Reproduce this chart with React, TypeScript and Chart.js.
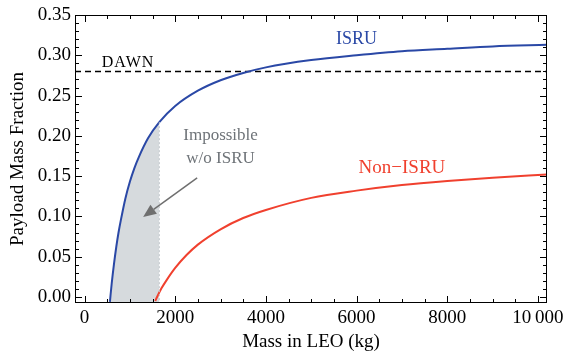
import React, { useEffect, useRef } from 'react';
import { Chart, registerables } from 'chart.js';
Chart.register(...registerables);

// Data
const isruMass = [560, 600, 650, 700, 750, 800, 900, 1000, 1100, 1200, 1400, 1650, 2000, 2500, 3000, 3500, 4000, 5000, 6000, 7000, 8000, 9000, 10200];
const isruFraction = [-0.006, 0.017, 0.041, 0.062, 0.080, 0.095, 0.122, 0.143, 0.160, 0.174, 0.197, 0.217, 0.237, 0.256, 0.269, 0.278, 0.285, 0.294, 0.300, 0.305, 0.308, 0.311, 0.313];
const nonIsruMass = [1560, 1600, 1700, 1800, 2000, 2250, 2500, 3000, 3500, 4000, 5000, 6000, 7000, 8000, 9000, 10200];
const nonIsruFraction = [-0.005, 0.0, 0.011, 0.020, 0.036, 0.052, 0.065, 0.084, 0.098, 0.108, 0.123, 0.132, 0.139, 0.144, 0.148, 0.152];
const shadeMass = [560, 600, 650, 700, 750, 800, 900, 1000, 1100, 1200, 1400, 1650];
const shadeFraction = [-0.006, 0.017, 0.041, 0.062, 0.080, 0.095, 0.122, 0.143, 0.160, 0.174, 0.197, 0.217];
const dawnMass = [-210, 10200];
const dawnFraction = [0.28, 0.28];
const xTickValues = [0, 2000, 4000, 6000, 8000, 10000];
const yTickValues = [0.0, 0.05, 0.1, 0.15, 0.2, 0.25, 0.3, 0.35];

const SERIF = '"Liberation Serif", "DejaVu Serif", serif';
const BLUE = '#2a48a6';
const RED = '#f0402e';
const GRAY_TEXT = '#6e7378';

const pts = (xs: number[], ys: number[]) => xs.map((x, i) => ({ x, y: ys[i] }));

const framePlugin = {
  id: 'frame',
  afterDatasetsDraw(chart: any) {
    const { ctx, chartArea: a, scales } = chart;
    const xs = scales.x;
    const ys = scales.y;
    ctx.save();
    // faint dashed edge of the shaded region
    const ex = xs.getPixelForValue(shadeMass[shadeMass.length - 1]);
    ctx.strokeStyle = '#c4c9cd';
    ctx.lineWidth = 1;
    ctx.setLineDash([2, 2]);
    ctx.beginPath();
    ctx.moveTo(ex, ys.getPixelForValue(shadeFraction[shadeFraction.length - 1]));
    ctx.lineTo(ex, a.bottom);
    ctx.stroke();
    ctx.setLineDash([]);
    // frame
    ctx.strokeStyle = '#000';
    ctx.lineWidth = 1;
    ctx.strokeRect(a.left + 0.5, a.top + 0.5, a.right - a.left - 1, a.bottom - a.top - 1);
    // x ticks (inward, bottom & top)
    ctx.beginPath();
    for (let m = 0; m <= 10000; m += 500) {
      const px = Math.round(xs.getPixelForValue(m)) + 0.5;
      const len = m % 2000 === 0 ? 7 : 4;
      ctx.moveTo(px, a.bottom);
      ctx.lineTo(px, a.bottom - len);
      ctx.moveTo(px, a.top);
      ctx.lineTo(px, a.top + len);
    }
    // y ticks (inward, left & right)
    for (let k = 0; k <= 35; k++) {
      const v = k / 100;
      const py = Math.round(ys.getPixelForValue(v)) + 0.5;
      const len = k % 5 === 0 ? 7 : 4;
      ctx.moveTo(a.left, py);
      ctx.lineTo(a.left + len, py);
      ctx.moveTo(a.right, py);
      ctx.lineTo(a.right - len, py);
    }
    ctx.stroke();

    const P = (m: number, v: number) => [xs.getPixelForValue(m), ys.getPixelForValue(v)];
    ctx.textAlign = 'center';
    ctx.textBaseline = 'middle';

    // series labels
    ctx.fillStyle = BLUE;
    ctx.font = `18px ${SERIF}`;
    let [lx, ly] = P(6000, 0.32);
    ctx.fillText('ISRU', lx, ly);

    ctx.fillStyle = RED;
    ctx.font = `19px ${SERIF}`;
    [lx, ly] = P(7000, 0.16);
    ctx.fillText('Non\u2212ISRU', lx, ly);

    ctx.fillStyle = '#000';
    ctx.font = `16px ${SERIF}`;
    (ctx as any).letterSpacing = '1px';
    [lx, ly] = P(960, 0.291);
    ctx.fillText('DAWN', lx, ly);
    (ctx as any).letterSpacing = '0px';

    ctx.fillStyle = GRAY_TEXT;
    ctx.font = `17px ${SERIF}`;
    [lx, ly] = P(3000, 0.201);
    ctx.fillText('Impossible', lx, ly);
    [lx, ly] = P(3000, 0.1714);
    ctx.fillText('w/o ISRU', lx, ly);

    // arrow
    const [x1, y1] = P(2484, 0.1478);
    const [x2, y2] = P(1293, 0.0994);
    const ang = Math.atan2(y2 - y1, x2 - x1);
    const hl = 13, hw = 5.5;
    const bx = x2 - hl * Math.cos(ang);
    const by = y2 - hl * Math.sin(ang);
    ctx.strokeStyle = '#6f6f6f';
    ctx.fillStyle = '#6f6f6f';
    ctx.lineWidth = 1.5;
    ctx.beginPath();
    ctx.moveTo(x1, y1);
    ctx.lineTo(bx, by);
    ctx.stroke();
    ctx.beginPath();
    ctx.moveTo(x2, y2);
    ctx.lineTo(bx + hw * Math.sin(ang), by - hw * Math.cos(ang));
    ctx.lineTo(bx - hw * Math.sin(ang), by + hw * Math.cos(ang));
    ctx.closePath();
    ctx.fill();
    ctx.restore();
  },
};

export default function App() {
  const ref = useRef<HTMLCanvasElement | null>(null);
  useEffect(() => {
    document.body.style.margin = '0';
    if (!ref.current) return;
    const chart = new Chart(ref.current, {
      type: 'line',
      data: {
        datasets: [
          {
            data: pts(shadeMass, shadeFraction),
            borderWidth: 0,
            borderColor: 'rgba(0,0,0,0)',
            backgroundColor: '#d6dadd',
            fill: 'start',
            pointRadius: 0,
            cubicInterpolationMode: 'monotone',
            order: 10,
          },
          {
            data: pts(dawnMass, dawnFraction),
            borderColor: '#000',
            borderWidth: 1.5,
            borderDash: [6, 4],
            pointRadius: 0,
            fill: false,
            order: 3,
          },
          {
            data: pts(isruMass, isruFraction),
            borderColor: BLUE,
            borderWidth: 2,
            pointRadius: 0,
            fill: false,
            cubicInterpolationMode: 'monotone',
            order: 1,
          },
          {
            data: pts(nonIsruMass, nonIsruFraction),
            borderColor: RED,
            borderWidth: 2,
            pointRadius: 0,
            fill: false,
            cubicInterpolationMode: 'monotone',
            order: 2,
          },
        ],
      },
      options: {
        animation: false,
        responsive: false,
        devicePixelRatio: 1,
        layout: { padding: { top: 15, right: 17, left: 0, bottom: 0 } },
        plugins: { legend: { display: false }, tooltip: { enabled: false } },
        scales: {
          x: {
            type: 'linear',
            min: -210,
            max: 10200,
            grid: { display: false, drawTicks: false },
            border: { display: false },
            afterBuildTicks: (s: any) => { s.ticks = xTickValues.map((value) => ({ value })); },
            afterFit: (s: any) => { s.height = 53; s.paddingLeft = 0; s.paddingRight = 0; },
            ticks: {
              includeBounds: false,
              padding: 4,
              color: '#000',
              font: { family: SERIF, size: 19 },
              maxRotation: 0,
              autoSkip: false,
              callback: (v: any) => (v === 10000 ? '10\u2009000' : String(v)),
            },
            title: {
              display: true,
              text: 'Mass in LEO (kg)',
              color: '#000',
              font: { family: SERIF, size: 19 },
              padding: { top: 0, bottom: 3 },
            },
          },
          y: {
            type: 'linear',
            min: -0.0075,
            max: 0.35,
            grid: { display: false, drawTicks: false },
            border: { display: false },
            afterBuildTicks: (s: any) => { s.ticks = yTickValues.map((value) => ({ value })); },
            afterFit: (s: any) => { s.width = 75; s.paddingTop = 0; s.paddingBottom = 0; },
            ticks: {
              includeBounds: false,
              padding: 4,
              color: '#000',
              font: { family: SERIF, size: 19 },
              autoSkip: false,
              callback: (v: any) => Number(v).toFixed(2),
            },
            title: {
              display: true,
              text: 'Payload Mass Fraction',
              color: '#000',
              font: { family: SERIF, size: 19 },
              padding: { top: 7, bottom: 0 },
            },
          },
        },
      },
      plugins: [framePlugin],
    });
    return () => chart.destroy();
  }, []);
  return (
    <div style={{ position: 'absolute', left: 0, top: 0, width: 564, height: 356 }}>
      <canvas ref={ref} width={564} height={356} style={{ width: 564, height: 356 }} />
    </div>
  );
}
